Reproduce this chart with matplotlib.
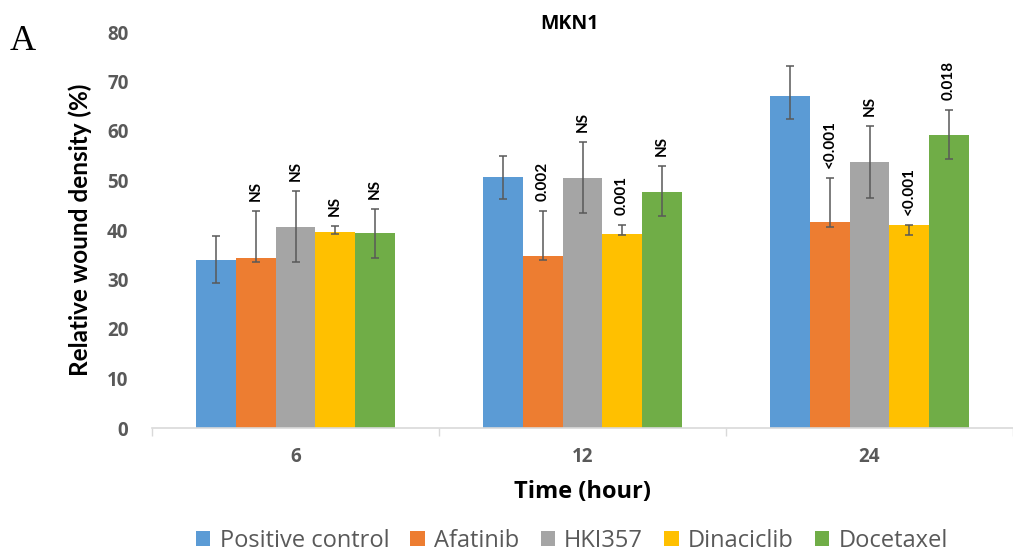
import numpy as np
import matplotlib as mpl
mpl.use('Agg')
import matplotlib.pyplot as plt

plt.rcParams['font.family'] = ['Open Sans', 'DejaVu Sans']

times = ['6', '12', '24']
series = ['Positive control', 'Afatinib', 'HKI357', 'Dinaciclib', 'Docetaxel']
colors = ['#5B9BD5', '#ED7D31', '#A5A5A5', '#FFC000', '#70AD47']

# mean wound density per time point, with lower / upper error
positive_control = [33.9, 50.8, 67.1]
positive_lo = [4.6, 4.6, 4.6]
positive_hi = [4.8, 4.1, 6.0]
afatinib = [34.4, 34.8, 41.7]
afatinib_lo = [0.9, 0.9, 1.0]
afatinib_hi = [9.4, 9.0, 8.9]
hki357 = [40.6, 50.6, 53.7]
hki357_lo = [7.1, 7.2, 7.2]
hki357_hi = [7.3, 7.2, 7.3]
dinaciclib = [39.6, 39.1, 41.0]
dinaciclib_lo = [0.5, 0.1, 2.0]
dinaciclib_hi = [1.3, 1.9, 0.0]
docetaxel = [39.3, 47.7, 59.1]
docetaxel_lo = [5.0, 4.8, 4.7]
docetaxel_hi = [5.0, 5.3, 5.1]

# p-values vs positive control
pvals = [
    None,
    ['NS', '0.002', '<0.001'],
    ['NS', 'NS', 'NS'],
    ['NS', '0.001', '<0.001'],
    ['NS', 'NS', '0.018'],
]

means = [positive_control, afatinib, hki357, dinaciclib, docetaxel]
lows = [positive_lo, afatinib_lo, hki357_lo, dinaciclib_lo, docetaxel_lo]
highs = [positive_hi, afatinib_hi, hki357_hi, dinaciclib_hi, docetaxel_hi]

W, H = 1013, 555
fig = plt.figure(figsize=(W / 100, H / 100), dpi=100)
ax = fig.add_axes([152 / W, 127 / H, 861 / W, 396 / H])

x = np.arange(len(times))
bw = 0.138
for i, name in enumerate(series):
    pos = x + (i - 2) * bw
    ax.bar(pos, means[i], width=bw, color=colors[i], label=name, zorder=2)
    ax.errorbar(pos, means[i], yerr=[lows[i], highs[i]], fmt='none',
                ecolor='#595959', elinewidth=1.1, capsize=3, capthick=1.1, zorder=3)
    if pvals[i]:
        for j, txt in enumerate(pvals[i]):
            ax.annotate(txt, (pos[j], means[i][j] + highs[i][j]),
                        xytext=(0, 7), textcoords='offset points',
                        rotation=90, ha='center', va='bottom',
                        fontsize=11, fontweight='bold', color='black',
                        family=['Lato', 'DejaVu Sans'])

ax.set_xlim(-0.5, 2.48)
ax.set_ylim(0, 80)
ax.set_yticks(range(0, 81, 10))
ax.set_xticks(x)
ax.set_xticklabels(times)
ax.set_xticks([-0.5, 0.5, 1.5, 2.5], minor=True)
ax.tick_params(axis='x', which='major', length=0, pad=14, labelsize=13.5, labelcolor='#595959')
ax.tick_params(axis='x', which='minor', length=6, color='#d9d9d9', width=1)
ax.tick_params(axis='y', length=0, pad=17, labelsize=13.5, labelcolor='#595959')
for lbl in ax.get_xticklabels() + ax.get_yticklabels():
    lbl.set_fontweight('bold')

for s in ['top', 'right', 'left']:
    ax.spines[s].set_visible(False)
ax.spines['bottom'].set_color('#d9d9d9')
ax.spines['bottom'].set_linewidth(1.2)

ax.set_ylabel('Relative wound density (%)', fontsize=17.5, fontweight='bold',
              labelpad=11, family=['Lato', 'DejaVu Sans'])
ax.set_xlabel('Time (hour)', fontsize=17, fontweight='bold', labelpad=9)

fig.text(569 / W, 1 - 24 / H, 'MKN1', ha='center', va='center',
         fontsize=14, fontweight='bold')
fig.text(10 / W, 1 - 41 / H, 'A', ha='left', va='center',
         fontsize=26, family='Liberation Serif')

fig.legend(loc='center', bbox_to_anchor=(572 / W, 1 - 541 / H), ncol=5,
           frameon=False, fontsize=17, handlelength=0.6, handleheight=0.6,
           handletextpad=0.4, columnspacing=0.9, labelcolor='#595959')

fig.savefig('out.png', dpi=100)
